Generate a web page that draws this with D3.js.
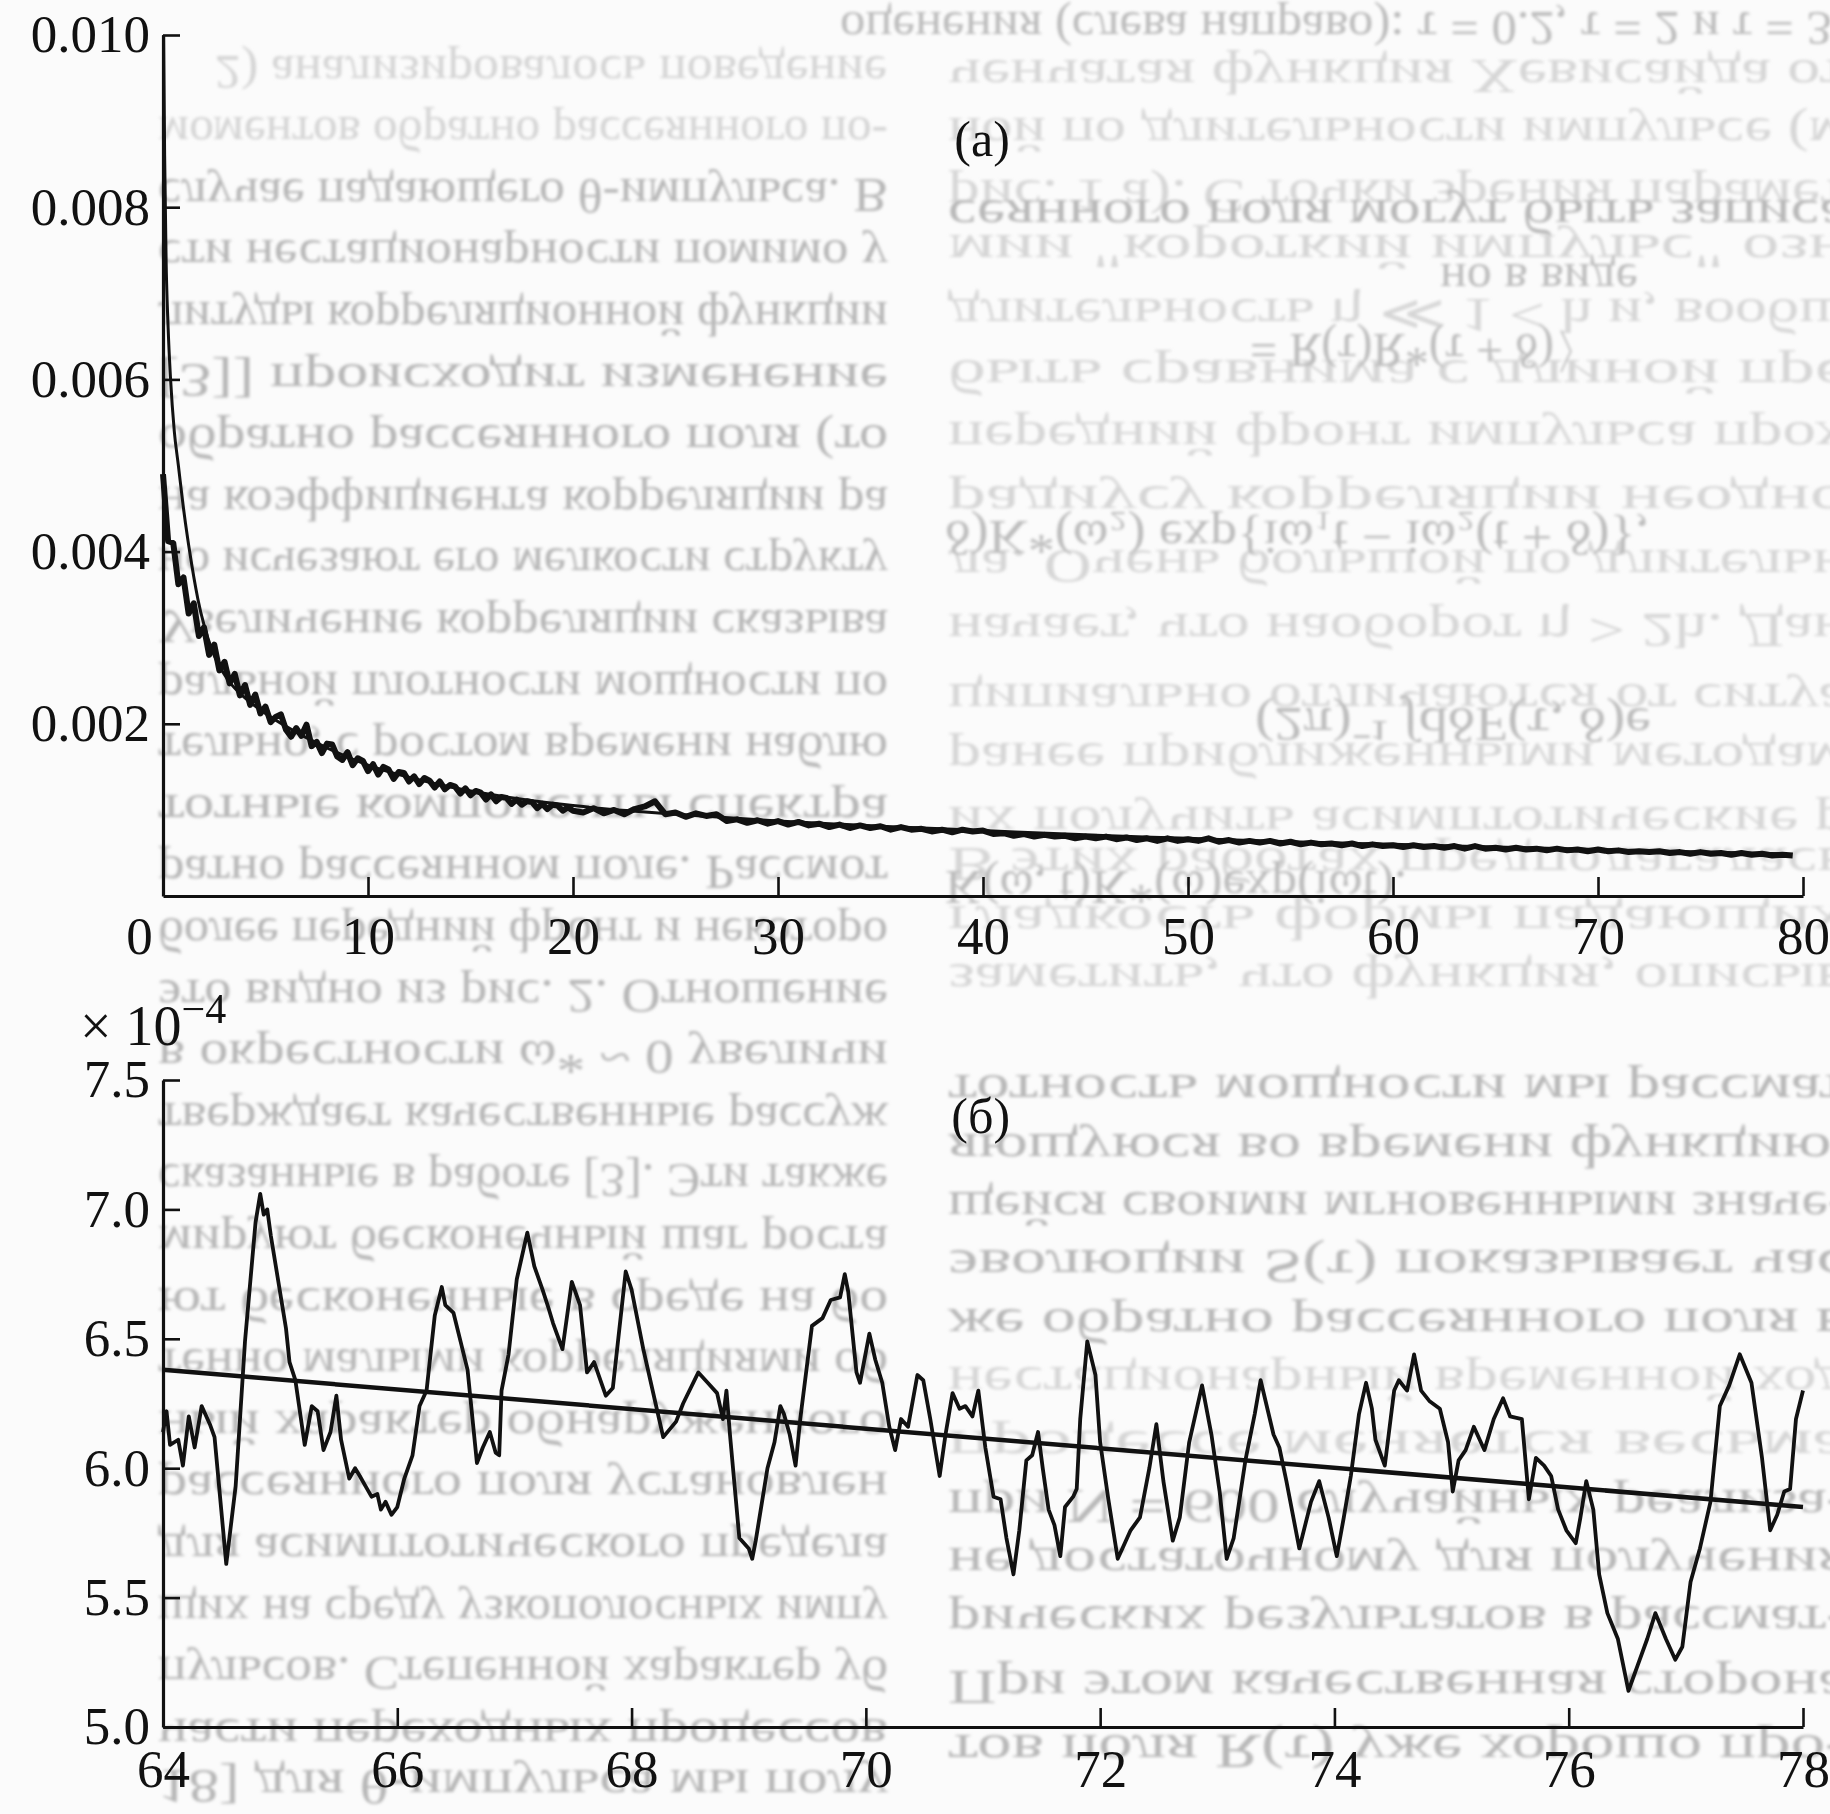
<!DOCTYPE html>
<html>
<head>
<meta charset="utf-8">
<script src="https://cdn.jsdelivr.net/npm/d3@7"></script>
<style>
  body { margin: 0; background: #fbfbfb; }
  svg { display: block; }
  .tick text { font-family: "Liberation Serif", "DejaVu Serif", serif; fill: #111; }
</style>
</head>
<body>
<svg id="chart"></svg>
<script>
// Page size
const width = 1830;
const height = 1814;

// ---- Panel (a): decay of the correlation, x in 0..80 ----
const topXTicks = [0, 10, 20, 30, 40, 50, 60, 70, 80];
const topYTicks = [0.002, 0.004, 0.006, 0.008, 0.010];

// smooth (theoretical) curve, [t, value*1e3]
const smoothCurve = [
    [0.03, 10.0], [0.08, 8.6], [0.15, 7.4], [0.25, 6.6], [0.37, 6.0], [0.55, 5.4],
    [0.75, 5.0], [1.0, 4.5], [1.3, 4.0], [1.7, 3.45], [2.4, 2.85], [3.2, 2.5],
    [4, 2.3], [5, 2.12], [6, 1.97], [8, 1.72], [10, 1.52], [13, 1.32], [16, 1.18],
    [20, 1.05], [25, 0.95], [30, 0.87], [35, 0.81], [40, 0.76], [45, 0.71],
    [50, 0.67], [55, 0.63], [60, 0.6], [65, 0.57], [70, 0.54], [75, 0.51], [79, 0.49]
];

// noisy (simulated) curve, value*1e3, t = 0..20 every 0.25
const noisyEarly = [
    4.90, 4.12, 4.10, 3.62, 3.70, 3.28, 3.40, 3.02, 3.12, 2.80, 2.92, 2.62, 2.72, 2.47, 2.58, 2.33,
    2.45, 2.22, 2.34, 2.12, 2.20, 2.02, 2.08, 2.11, 1.93, 1.85, 1.95, 1.86, 1.99, 1.74, 1.79, 1.66,
    1.77, 1.76, 1.62, 1.58, 1.67, 1.52, 1.60, 1.57, 1.45, 1.53, 1.41, 1.50, 1.47, 1.36, 1.44, 1.43,
    1.33, 1.39, 1.30, 1.37, 1.34, 1.26, 1.33, 1.24, 1.29, 1.27, 1.19, 1.25, 1.17, 1.22, 1.20, 1.12,
    1.18, 1.10, 1.15, 1.14, 1.07, 1.12, 1.06, 1.10, 1.09, 1.02, 1.07, 1.01, 1.06, 1.05, 0.99, 1.03,
    0.99
];
// t = 20.5..79.5 every 0.5
const noisyLate = [
    0.97, 1.02, 0.96, 1.00, 0.95, 1.01, 1.04, 1.10, 0.95, 0.97, 0.92, 0.96, 0.93, 0.95, 0.87, 0.89,
    0.85, 0.88, 0.84, 0.87, 0.83, 0.86, 0.82, 0.84, 0.80, 0.83, 0.79, 0.82, 0.79, 0.81, 0.77, 0.80,
    0.77, 0.78, 0.75, 0.77, 0.74, 0.77, 0.75, 0.76, 0.72, 0.73, 0.70, 0.72, 0.69, 0.71, 0.69, 0.70,
    0.67, 0.69, 0.67, 0.69, 0.66, 0.68, 0.65, 0.67, 0.64, 0.67, 0.64, 0.66, 0.64, 0.67, 0.63, 0.65,
    0.62, 0.64, 0.62, 0.64, 0.61, 0.63, 0.60, 0.62, 0.60, 0.61, 0.59, 0.61, 0.58, 0.60, 0.58, 0.59,
    0.57, 0.59, 0.57, 0.58, 0.56, 0.58, 0.55, 0.58, 0.55, 0.56, 0.54, 0.56, 0.54, 0.55, 0.53, 0.55,
    0.53, 0.54, 0.52, 0.54, 0.52, 0.53, 0.51, 0.52, 0.51, 0.52, 0.50, 0.51, 0.49, 0.51, 0.49, 0.50,
    0.48, 0.50, 0.48, 0.49, 0.47, 0.48, 0.47
];

// ---- Panel (б): fluctuations, x in 64..78, values *1e-4 ----
const botXTicks = [64, 66, 68, 70, 72, 74, 76, 78];
const botYTicks = [5.0, 5.5, 6.0, 6.5, 7.0, 7.5];
const trendLine = [[64, 6.38], [78, 5.85]];
const fluctuation = [
    [64.0, 6.14], [64.03, 6.22], [64.06, 6.09], [64.13, 6.11], [64.17, 6.01], [64.22, 6.2], [64.27, 6.08],
    [64.33, 6.24], [64.4, 6.17], [64.44, 6.12], [64.54, 5.63], [64.62, 5.93], [64.7, 6.49], [64.79, 6.95],
    [64.83, 7.06], [64.86, 6.98], [64.89, 7.0], [64.92, 6.9], [65.05, 6.54], [65.08, 6.41], [65.13, 6.34],
    [65.21, 6.09], [65.27, 6.24], [65.32, 6.22], [65.37, 6.07], [65.43, 6.14], [65.48, 6.28], [65.52, 6.11],
    [65.59, 5.96], [65.64, 6.0], [65.68, 5.97], [65.73, 5.93], [65.78, 5.89], [65.83, 5.9], [65.86, 5.84],
    [65.9, 5.87], [65.95, 5.82], [66.0, 5.85], [66.06, 5.96], [66.13, 6.05], [66.19, 6.24], [66.25, 6.3],
    [66.32, 6.59], [66.38, 6.7], [66.41, 6.63], [66.48, 6.6], [66.54, 6.49], [66.6, 6.38], [66.68, 6.02],
    [66.73, 6.08], [66.79, 6.14], [66.84, 6.06], [66.87, 6.05], [66.89, 6.3], [66.95, 6.44], [67.02, 6.73],
    [67.11, 6.91], [67.17, 6.78], [67.24, 6.69], [67.29, 6.62], [67.33, 6.56], [67.41, 6.46], [67.49, 6.72],
    [67.56, 6.63], [67.62, 6.37], [67.68, 6.41], [67.78, 6.28], [67.84, 6.31], [67.95, 6.76], [68.0, 6.69],
    [68.1, 6.46], [68.22, 6.22], [68.27, 6.12], [68.38, 6.18], [68.44, 6.25], [68.57, 6.37], [68.65, 6.33],
    [68.73, 6.29], [68.78, 6.19], [68.81, 6.30], [68.84, 6.13], [68.92, 5.73], [69.0, 5.69], [69.03, 5.65],
    [69.06, 5.72], [69.16, 6.0], [69.22, 6.1], [69.27, 6.24], [69.3, 6.21], [69.35, 6.13], [69.4, 6.01],
    [69.44, 6.19], [69.54, 6.55], [69.63, 6.58], [69.7, 6.65], [69.78, 6.66], [69.82, 6.75], [69.85, 6.68],
    [69.92, 6.37], [69.95, 6.33], [70.03, 6.52], [70.08, 6.42], [70.14, 6.33], [70.2, 6.16], [70.25, 6.07],
    [70.3, 6.19], [70.36, 6.16], [70.44, 6.36], [70.49, 6.34], [70.55, 6.19], [70.63, 5.97], [70.68, 6.13],
    [70.74, 6.29], [70.8, 6.23], [70.85, 6.24], [70.91, 6.2], [70.96, 6.3], [71.02, 6.08], [71.09, 5.89],
    [71.15, 5.88], [71.2, 5.73], [71.26, 5.59], [71.31, 5.76], [71.37, 6.03], [71.42, 6.05], [71.47, 6.14],
    [71.51, 6.0], [71.56, 5.84], [71.61, 5.78], [71.66, 5.66], [71.7, 5.85], [71.77, 5.89], [71.8, 5.92],
    [71.83, 6.19], [71.89, 6.49], [71.96, 6.36], [72.0, 6.1], [72.07, 5.88], [72.15, 5.65], [72.19, 5.69],
    [72.26, 5.76], [72.34, 5.81], [72.42, 6.0], [72.48, 6.17], [72.54, 5.95], [72.62, 5.72], [72.68, 5.81],
    [72.76, 6.1], [72.87, 6.32], [72.95, 6.13], [73.02, 5.91], [73.08, 5.65], [73.14, 5.73], [73.24, 6.03],
    [73.32, 6.21], [73.37, 6.34], [73.48, 6.13], [73.53, 6.08], [73.59, 5.95], [73.7, 5.69], [73.8, 5.87],
    [73.87, 5.95], [73.95, 5.81], [74.02, 5.66], [74.08, 5.81], [74.14, 5.97], [74.21, 6.21], [74.27, 6.33],
    [74.32, 6.23], [74.35, 6.11], [74.43, 6.01], [74.51, 6.3], [74.55, 6.34], [74.62, 6.3], [74.68, 6.44],
    [74.74, 6.3], [74.81, 6.26], [74.9, 6.23], [74.97, 6.1], [75.01, 5.91], [75.06, 6.03], [75.12, 6.07],
    [75.19, 6.16], [75.28, 6.07], [75.36, 6.19], [75.44, 6.27], [75.5, 6.2], [75.6, 6.19], [75.66, 5.88],
    [75.72, 6.04], [75.79, 6.01], [75.85, 5.97], [75.91, 5.84], [75.98, 5.76], [76.06, 5.71], [76.1, 5.81],
    [76.15, 5.95], [76.21, 5.84], [76.26, 5.59], [76.33, 5.44], [76.42, 5.34], [76.51, 5.14], [76.59, 5.24],
    [76.67, 5.34], [76.74, 5.44], [76.83, 5.34], [76.91, 5.26], [76.97, 5.31], [77.04, 5.56], [77.12, 5.69],
    [77.21, 5.87], [77.29, 6.24], [77.37, 6.32], [77.46, 6.44], [77.56, 6.33], [77.65, 6.04], [77.72, 5.76],
    [77.78, 5.82], [77.84, 5.91], [77.89, 5.92], [77.94, 6.19], [78.0, 6.3]
];

// Show-through text of the scanned page (drawn flipped, light and soft)
const bgLeft = [
    "2) анализировалось поведение", "моментов обратно рассеянного по-",
    "случае падающего θ-импульса. В", "сти нестационарности помимо у",
    "литуды корреляционной функции", "[3]] происходит изменение",
    "обратно рассеянного поля (то", "на коэффициента корреляции ра",
    "но исчезают его мелкости структу", "Увеличение корреляции сказыва",
    "ральной плотности мощности по", "тельно, с ростом времени наблю",
    "тотные компоненты спектра", "ратно рассеянном поле. Рассмот",
    "более передний фронт и некоторо", "это видно из рис. 2. Отношение",
    "в окрестности ω* ~ 0 увеличи", "тверждает качественные рассуж",
    "сказанные в работе [3]. Эти также", "мируют бесконечный шаг роста",
    "ют бесконечные в среде на бо", "тенно малыми корреляциями об",
    "ный характер обнаруженного", "рассеянного поля установлен",
    "для асимптотического предела", "щих на среду узкополосных импу",
    "пульсов. Степенной характер уб", "части переходных процессов",
    "18] для θ-импульса мы полу"
];
const bgRight = [
    [76, "ченчатая функция Хевисайда от", 0], [134, "ной по длительности импульсе (м", 0],
    [196, "рис. 1 а). С точки зрения парамет", 0], [216, "сеянного поля могут быть записа", 1],
    [251, "мии \"короткий импульс\" озн", 0], [315, "длительность η ≪ 1 < h и, вообщ", 0],
    [376, "быть сравнима с длиной пре", 0], [438, "передний фронт импульса прох", 0],
    [502, "радиусу корреляции неодно", 0], [566, "ла. Очень большой по длительн", 0],
    [630, "начает, что наоборот η > 2h. Дан", 0], [700, "ципиально отличаются от ситуа", 0],
    [759, "ранее приближенными методам", 0], [823, "их получить асимптотические р", 0],
    [864, "В этих работах предполагалась", 0], [922, "гладкость формы падающих", 0],
    [980, "заметить, что функция, описыв", 0], [1091, "тотность мощности мы рассмат", 1],
    [1150, "яющуюся во времени функцию,", 1], [1208, "щейся своими мгновенными значе-", 1],
    [1266, "эволюции S(τ) показывает час", 1], [1325, "же обратно рассеянного поля в", 1],
    [1383, "нестационарный временной ход", 0], [1447, "процессе меняется весьма", 0],
    [1506, "при N = 600 случайных реализа-", 1], [1564, "не достаточному для получения", 1],
    [1622, "рических результатов в рассмат-", 1], [1687, "При этом качественная сторона", 1],
    [1751, "тов поля R(τ) уже хорошо про-", 1]
];
const bgFormulas = [
    [29, 840, "оценения (слева направо): τ = 0.2, τ = 2 и τ = 35."],
    [280, 1440, "но в виде"],
    [350, 1250, "= R(τ)R*(τ + δ)〉"],
    [537, 945, "δ)K*(ω₂) exp{iω₁t − iω₂(t + δ)},"],
    [724, 1255, "(2π)⁻¹ ∫dδF(τ, δ)e"],
    [887, 945, "K(ω, t)K*(ω)exp(iωt)."]
];

const svg = d3.select("#chart")
    .attr("width", width)
    .attr("height", height);

svg.append("defs")
    .append("filter")
    .attr("id", "soft")
    .append("feGaussianBlur")
    .attr("stdDeviation", 1.6);

svg.append("rect")
    .attr("width", width)
    .attr("height", height)
    .attr("fill", "#fbfbfb");

// background text layer
const bg = svg.append("g")
    .attr("filter", "url(#soft)")
    .style("font-family", "'Liberation Serif', serif")
    .style("font-size", "48px");

function flippedLine(x, y, text, len, colour) {
    bg.append("text")
        .attr("transform", `translate(${x},${y}) scale(1,-1)`)
        .attr("dominant-baseline", "central")
        .attr("textLength", len)
        .attr("lengthAdjust", "spacingAndGlyphs")
        .attr("fill", colour)
        .text(text);
}

bgLeft.forEach((line, i) => {
    const y = Math.min(72 + i * 61.6, 1786);
    flippedLine(i === 0 ? 215 : 158, y, line, i === 0 ? 672 : 730, i < 2 ? "#d4d4d4" : "#b6b6b6");
});
bgRight.forEach(([y, line, dark]) => {
    flippedLine(948, y, line, 900, dark ? "#b8b8b8" : "#d6d6d6");
});
bgFormulas.forEach(([y, x, line]) => {
    flippedLine(x, y, line, Math.min(line.length * 22, 1830 - x + 40), "#bcbcbc");
});

// scales
const xTop = d3.scaleLinear().domain([0, 80]).range([163, 1803]);
const yTop = d3.scaleLinear().domain([0, 0.010]).range([896, 35]);
const xBot = d3.scaleLinear().domain([64, 78]).range([163, 1803]);
const yBot = d3.scaleLinear().domain([5.0, 7.5]).range([1727, 1080]);

function drawAxes(x, y, xTicks, yTicks, yFormat, xPad) {
    const gx = svg.append("g")
        .attr("transform", `translate(0,${y.range()[0]})`)
        .call(d3.axisBottom(x).tickValues(xTicks).tickSizeInner(-19).tickSizeOuter(0)
            .tickPadding(xPad).tickFormat(d3.format("d")));
    const gy = svg.append("g")
        .attr("transform", `translate(${x.range()[0]},0)`)
        .call(d3.axisLeft(y).tickValues(yTicks).tickSizeInner(-17).tickSizeOuter(0)
            .tickPadding(13).tickFormat(yFormat));
    [gx, gy].forEach(g => {
        g.select(".domain").attr("stroke", "#111").attr("stroke-width", 3.2);
        g.selectAll(".tick line").attr("stroke", "#111").attr("stroke-width", 2.6);
        g.selectAll(".tick text").style("font-size", "53px");
    });
    return gx;
}

const gxTop = drawAxes(xTop, yTop, topXTicks, topYTicks, d3.format(".3f"), 20);
// origin label sits left of the axis
gxTop.selectAll(".tick text").filter(d => d === 0).attr("x", -24);
drawAxes(xBot, yBot, botXTicks, botYTicks, d3.format(".1f"), 22);

// panel (a) curves
const noisyCurve = noisyEarly.map((v, i) => [i * 0.25, v])
    .concat(noisyLate.map((v, i) => [20.5 + i * 0.5, v]));

const lineTop = d3.line()
    .x(d => xTop(d[0]))
    .y(d => yTop(d[1] * 1e-3))
    .curve(d3.curveMonotoneX);

svg.append("path")
    .datum(smoothCurve)
    .attr("d", lineTop)
    .attr("fill", "none")
    .attr("stroke", "#111")
    .attr("stroke-width", 3);

svg.append("path")
    .datum(noisyCurve)
    .attr("d", lineTop.curve(d3.curveLinear))
    .attr("fill", "none")
    .attr("stroke", "#111")
    .attr("stroke-width", 6)
    .attr("stroke-linejoin", "round");

// panel (б) curves
const lineBot = d3.line()
    .x(d => xBot(d[0]))
    .y(d => yBot(d[1]));

svg.append("path")
    .datum(trendLine)
    .attr("d", lineBot)
    .attr("fill", "none")
    .attr("stroke", "#111")
    .attr("stroke-width", 4.5);

svg.append("path")
    .datum(fluctuation)
    .attr("d", lineBot)
    .attr("fill", "none")
    .attr("stroke", "#111")
    .attr("stroke-width", 3.8)
    .attr("stroke-linejoin", "round");

// panel letters and exponent
const labels = svg.append("g")
    .style("font-family", "'Liberation Serif', serif")
    .attr("fill", "#111");

labels.append("text")
    .attr("x", xTop(38.6)).attr("y", 156)
    .style("font-size", "50px")
    .text("(а)");

labels.append("text")
    .attr("x", xBot(70.73)).attr("y", 1133)
    .style("font-size", "50px")
    .text("(б)");

const expo = labels.append("text")
    .attr("x", 80).attr("y", 1045)
    .style("font-size", "56px");
expo.append("tspan").text("× 10");
expo.append("tspan").attr("dy", -22).style("font-size", "42px").text("−4");
</script>
</body>
</html>
